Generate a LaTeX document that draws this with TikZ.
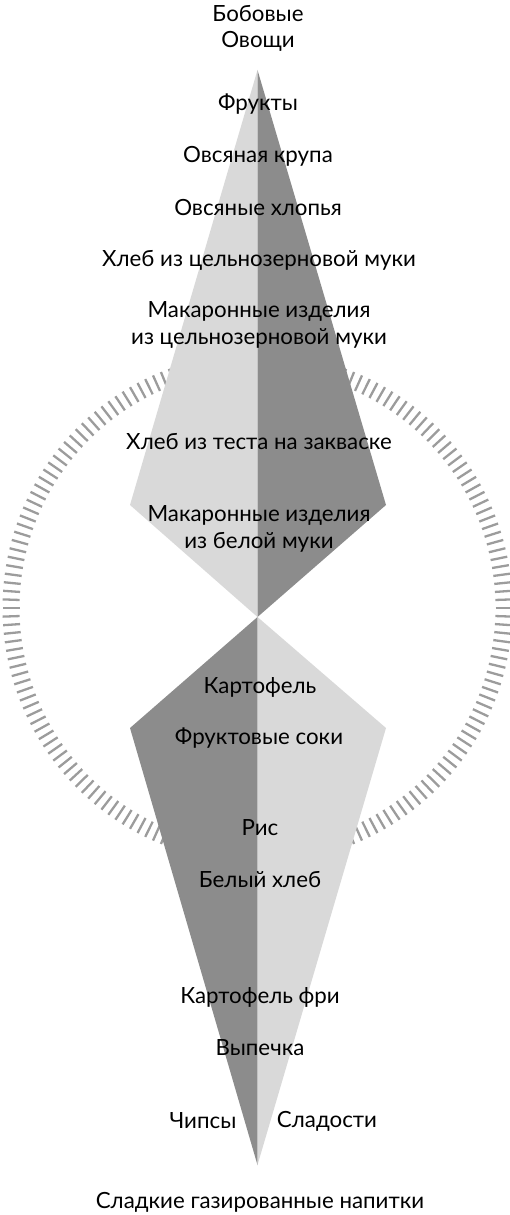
\documentclass[tikz,border=0pt]{standalone}
\usepackage{fontspec}
\setmainfont{Lato}
\usepackage{tkz-euclide}
\usetikzlibrary{calc}
\definecolor{lightgr}{HTML}{D9D9D9}
\definecolor{darkgr}{HTML}{8C8C8C}
\definecolor{tickgr}{HTML}{9C9C9C}
\tikzset{lbl/.style={align=center,inner sep=0pt,font=\fontsize{22.3}{27}\selectfont},
  tick/.style={draw=tickgr,line width=2.3pt}}
\begin{document}
\begin{tikzpicture}[x=1pt,y=-1pt]
\useasboundingbox (0,0) rectangle (509,1215);
\tkzDefPoints{257.5/70/A, 130/505/L, 386/505/R, 257.5/617/M, 130/728/P, 386/728/Q, 257.5/1165/B, 257.5/608/O}
\foreach \i in {0,...,185}
  \draw[tick] ($(O)+(\i*1.93548:238)$) -- ($(O)+(\i*1.93548:255)$);
\tkzFillPolygon[color=lightgr](A,L,M)
\tkzFillPolygon[color=darkgr](A,M,R)
\tkzFillPolygon[color=darkgr](M,P,B)
\tkzFillPolygon[color=lightgr](M,B,Q)
\node[lbl] (beans) at (258,14) {Бобовые};
\node[lbl] (veg) at (258,41) {Овощи};
\node[lbl] (fruits) at (258,104) {Фрукты};
\node[lbl] (oats) at (258,156) {Овсяная крупа};
\node[lbl] (flakes) at (258,208) {Овсяные хлопья};
\node[lbl] (wholebread) at (259,260) {Хлеб из цельнозерновой муки};
\node[lbl] (wholepasta) at (259,325) {Макаронные изделия\\из цельнозерновой муки};
\node[lbl] (sourdough) at (259,442) {Хлеб из теста на закваске};
\node[lbl] (whitepasta) at (259,529) {Макаронные изделия\\из белой муки};
\node[lbl] (potato) at (260,687) {Картофель};
\node[lbl] (juice) at (259,738) {Фруктовые соки};
\node[lbl] (rice) at (260,828) {Рис};
\node[lbl] (whitebread) at (260,880) {Белый хлеб};
\node[lbl] (fries) at (260,997) {Картофель фри};
\node[lbl] (pastry) at (260,1048) {Выпечка};
\node[lbl] (chips) at (203,1121) {Чипсы};
\node[lbl] (sweets) at (327,1121) {Сладости};
\node[lbl] (soda) at (260,1202) {Сладкие газированные напитки};
\end{tikzpicture}
\end{document}
